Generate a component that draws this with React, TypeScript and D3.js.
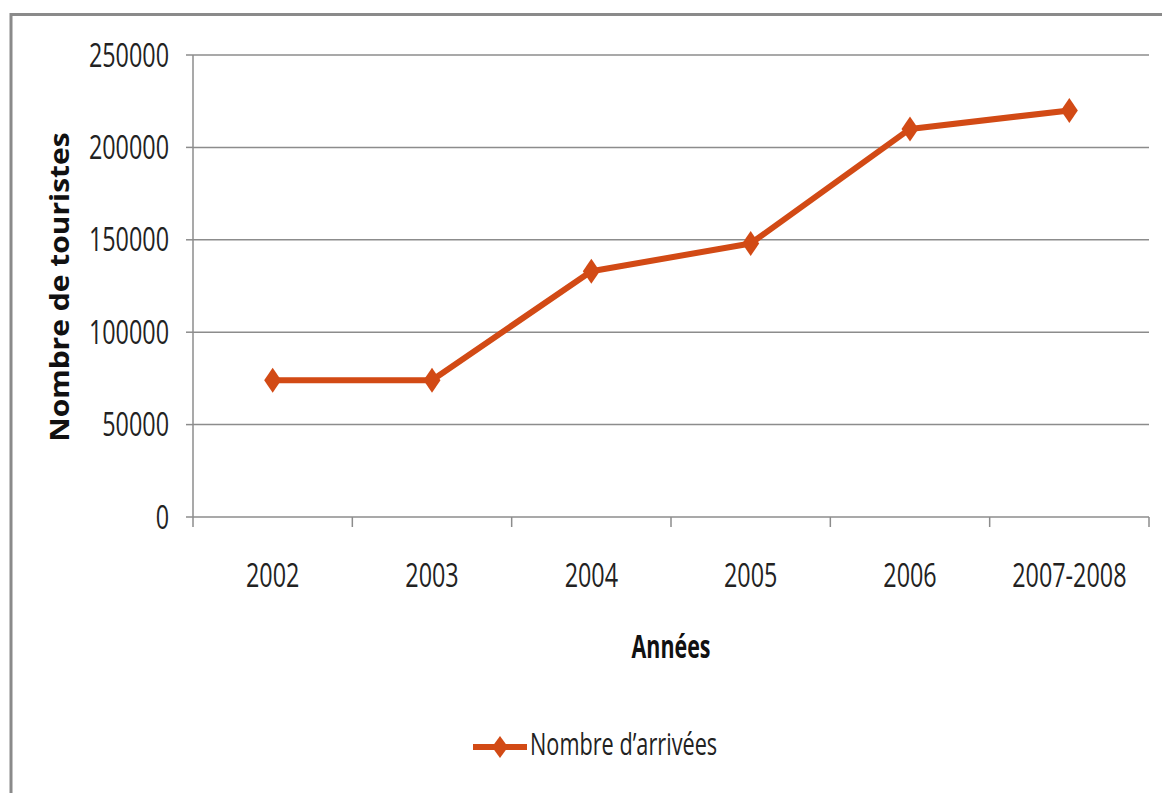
import React from "react";
import * as d3 from "d3";

const categories = ["2002", "2003", "2004", "2005", "2006", "2007-2008"];
const arrivals = [74000, 74000, 133000, 148000, 210000, 220000];
const yTicks = [0, 50000, 100000, 150000, 200000, 250000];

const W = 1162;
const H = 793;
const left = 193;
const right = 1149;
const top = 55;
const bottom = 517;
const color = "#D24A15";
const grid = "#8c8c8c";
const font = "'Open Sans', 'DejaVu Sans', sans-serif";
const SX = 0.73;

export default function App() {
  const x = d3.scaleBand<string>().domain(categories).range([left, right]);
  const y = d3.scaleLinear().domain([0, 250000]).range([bottom, top]);
  const cx = (c: string) => (x(c) as number) + x.bandwidth() / 2;
  const line = d3
    .line<number>()
    .x((_, i) => cx(categories[i]))
    .y((d) => y(d));
  const diamond = (px: number, py: number, w = 8.5, h = 12.5) =>
    `M${px},${py - h}L${px + w},${py}L${px},${py + h}L${px - w},${py}Z`;

  const boundaries = categories.map((c) => x(c) as number).concat([right]);

  return (
    <svg
      width={W}
      height={H}
      style={{ position: "absolute", left: 0, top: 0, background: "#fff" }}
    >
      <rect x={11} y={14.5} width={W + 20} height={H + 20} fill="#fff" stroke="#8a8a8a" strokeWidth={3} />
      {yTicks.map((t) => (
        <g key={t}>
          {t > 0 && (
            <line x1={left} x2={right} y1={y(t)} y2={y(t)} stroke={grid} strokeWidth={1.5} />
          )}
          <line x1={left - 7} x2={left} y1={y(t)} y2={y(t)} stroke={grid} strokeWidth={1.5} />
          <text
            transform={`translate(169,${y(t) + 11.5}) scale(${SX},1)`}
            textAnchor="end"
            fontFamily={font}
            fontSize={32}
            fill="#222"
          >
            {t}
          </text>
        </g>
      ))}
      <line x1={left} x2={left} y1={top} y2={bottom} stroke={grid} strokeWidth={1.5} />
      <line x1={left} x2={right} y1={bottom} y2={bottom} stroke={grid} strokeWidth={1.5} />
      {boundaries.map((b, i) => (
        <line key={i} x1={b} x2={b} y1={bottom} y2={bottom + 10} stroke={grid} strokeWidth={1.5} />
      ))}
      {categories.map((c) => (
        <text
          key={c}
          transform={`translate(${cx(c)},587) scale(${SX},1)`}
          textAnchor="middle"
          fontFamily={font}
          fontSize={32}
          fill="#222"
        >
          {c}
        </text>
      ))}
      <text
        transform={`translate(60,287) rotate(-90) scale(1,0.89)`}
        textAnchor="middle"
        dy="0.35em"
        fontFamily={font}
        fontWeight="bold"
        fontSize={30}
        fill="#111"
      >
        Nombre de touristes
      </text>
      <text
        transform={`translate(671,658) scale(0.67,1)`}
        textAnchor="middle"
        fontFamily={font}
        fontWeight="bold"
        fontSize={32}
        fill="#111"
      >
        Années
      </text>
      <path d={line(arrivals) || ""} fill="none" stroke={color} strokeWidth={6} strokeLinejoin="round" />
      {arrivals.map((v, i) => (
        <path key={i} d={diamond(cx(categories[i]), y(v))} fill={color} />
      ))}
      <line x1={473} x2={527} y1={747} y2={747} stroke={color} strokeWidth={6} />
      <path d={diamond(500, 747, 8, 11)} fill={color} />
      <text
        transform={`translate(530,755) scale(0.7,1)`}
        fontFamily={font}
        fontSize={31}
        fill="#222"
      >
        Nombre d’arrivées
      </text>
    </svg>
  );
}
